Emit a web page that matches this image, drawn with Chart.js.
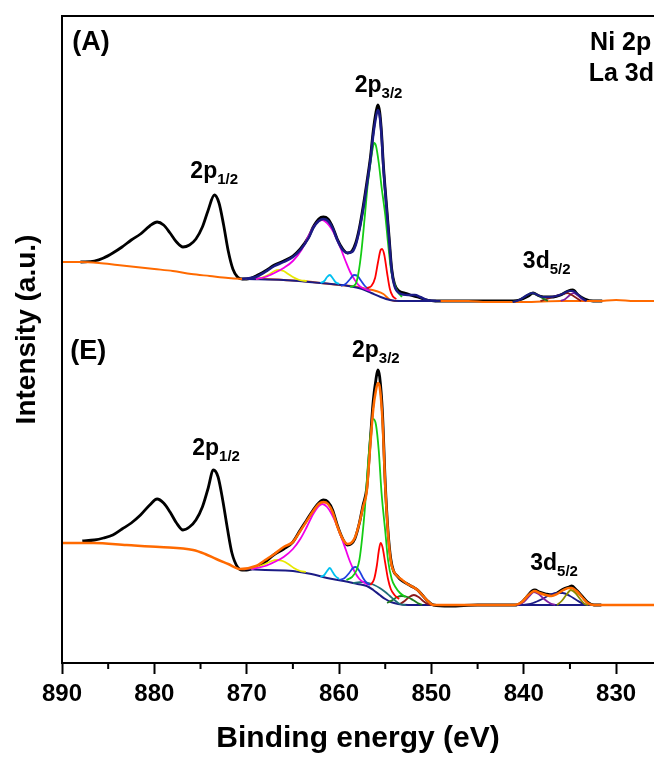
<!DOCTYPE html>
<html>
<head>
<meta charset="utf-8">
<script src="https://cdn.jsdelivr.net/npm/chart.js@4.4.1/dist/chart.umd.min.js"></script>
<style>
  html, body { margin: 0; padding: 0; background: #fff; overflow: hidden; }
</style>
</head>
<body>
<canvas id="myChart" width="654" height="757"></canvas>
<script>
// Energías de enlace (eV) e intensidad (u.a.): [eV, intensidad]

// ---- Muestra (A) ----
const aExp = [
  [888.0, 401], [886.5, 402], [885.5, 405], [884.5, 410], [883.5, 416], [882.5, 423], [881.5, 429],
  [880.5, 437], [879.7, 441], [879.0, 438], [878.3, 430], [877.6, 421], [876.9, 416], [876.2, 418],
  [875.5, 424], [874.8, 436], [874.2, 452], [873.5, 468], [873.0, 460], [872.5, 438], [872.0, 412],
  [871.5, 394], [871.0, 386], [870.5, 384], [870.0, 384], [869.0, 387], [868.0, 392], [867.0, 398],
  [866.0, 402], [865.0, 407], [864.2, 414], [863.3, 426], [862.8, 436], [862.2, 444], [861.7, 446],
  [861.2, 444], [860.7, 436], [860.2, 424], [859.6, 414], [859.1, 410], [858.6, 412], [858.2, 420],
  [857.8, 435], [857.4, 456], [857.0, 480], [856.6, 506], [856.3, 532], [856.0, 551], [855.8, 558],
  [855.6, 551], [855.4, 530], [855.2, 498], [854.9, 462], [854.6, 428], [854.3, 394], [854.0, 379],
  [853.5, 372], [852.9, 370], [852.3, 368], [851.5, 366], [850.5, 363], [849.5, 362], [845.0, 362],
  [842.0, 362], [840.5, 363], [839.5, 367], [839.0, 370], [838.3, 367], [837.5, 366], [836.8, 366],
  [836.0, 368], [835.2, 372], [834.7, 373], [834.1, 368], [833.4, 364], [832.5, 362], [831.5, 362],
];
const aFondo = [
  [890, 401], [888, 401], [886, 400], [884, 398], [882, 396], [880, 394], [878, 392], [876, 389],
  [874, 387], [872, 385], [870, 384], [868, 384], [866, 383], [864, 382], [862, 380], [860, 378],
  [858, 376], [857, 374], [856, 372], [855.2, 369], [854.6, 364], [854, 362], [850, 362], [846, 362],
  [844, 361], [840, 361], [836, 362], [832, 362], [830, 363], [828, 362], [825.9, 362],
];
const aFondoAzul = [
  [870, 384], [866, 383], [862, 380], [859, 377], [857.5, 374], [856.5, 370], [855.5, 366],
  [854.5, 363], [853.5, 362], [849, 362],
];
const aAjuste = [
  [870.5, 384], [869, 386], [868, 391], [867, 397], [866, 401], [865, 406], [864.2, 413], [863.3, 425],
  [862.8, 435], [862.2, 442], [861.7, 444], [861.2, 442], [860.7, 435], [860.2, 423], [859.6, 413],
  [859.1, 410], [858.6, 411], [858.2, 418], [857.8, 433], [857.4, 453], [857.0, 477], [856.6, 503],
  [856.3, 528], [856.0, 546], [855.8, 553], [855.6, 547], [855.4, 527], [855.2, 495], [854.9, 459],
  [854.6, 425], [854.3, 392], [854.0, 377], [853.5, 370], [852.5, 368], [851.8, 368], [851.2, 366],
  [850.5, 363], [849.5, 362],
];
const aAmarillo = [[869, 384], [868.2, 386], [867.5, 389], [867, 392], [866.5, 393], [866, 392], [865.5, 389], [865, 386], [864.3, 383], [863.5, 382]];
const aMagenta = [
  [869, 384], [868, 386], [867, 390], [866, 395], [865, 402], [864, 414], [863.3, 427], [862.7, 437],
  [862.2, 442], [861.8, 443], [861.3, 440], [860.8, 434], [860.3, 425], [859.8, 414], [859.3, 402],
  [858.8, 391], [858.3, 383], [857.8, 377], [857.2, 374], [856.6, 372],
];
const aCian = [[862, 380], [861.6, 382], [861.3, 386], [861.0, 388], [860.7, 385], [860.4, 381], [860, 379]];
const aAzul = [[859.8, 377], [859.3, 379], [858.8, 384], [858.4, 388], [858.0, 387], [857.6, 382], [857.2, 377], [856.8, 374]];
const aVerde = [
  [858.8, 376], [858.2, 379], [857.9, 390], [857.6, 410], [857.2, 448], [856.9, 478], [856.6, 500],
  [856.35, 515], [856.2, 520], [856.0, 517], [855.7, 500], [855.4, 476], [855.0, 448], [854.7, 420],
  [854.4, 395], [854.1, 382], [853.7, 372], [853.2, 366],
];
const aRojo = [[857.0, 375], [856.5, 377], [856.1, 385], [855.8, 400], [855.5, 413], [855.35, 414], [855.1, 408], [854.8, 390], [854.5, 374], [854.2, 367], [853.8, 364]];
const aLaVerde = [[841.2, 361], [840.5, 363], [839.8, 367], [839.1, 370], [838.5, 368], [838.0, 365], [837.4, 362]];
const aLaGranate = [[838.2, 362], [837.5, 364], [836.6, 367], [835.8, 369], [835.3, 370], [834.8, 368], [834.3, 365], [833.8, 362]];
const aLaMorado = [[836.0, 362], [835.5, 364], [835.0, 368], [834.6, 370], [834.2, 368], [833.7, 364], [833.3, 362]];
const aLaAjuste = [
  [841.2, 361], [840.5, 363], [839.8, 367], [839.1, 370], [838.5, 368], [837.9, 366], [837.2, 366],
  [836.5, 367], [835.8, 369], [835.1, 372], [834.7, 372], [834.2, 369], [833.7, 365], [833.2, 362],
];

// ---- Muestra (E) ----
const eExp = [
  [887.8, 122], [886.5, 123], [885.5, 125], [884.5, 128], [883.5, 134], [882.5, 140], [881.5, 148],
  [880.5, 158], [879.7, 164], [879.0, 160], [878.3, 151], [877.6, 140], [876.9, 133], [876.2, 136],
  [875.5, 143], [874.8, 156], [874.2, 174], [873.6, 193], [873.1, 186], [872.6, 163], [872.1, 135],
  [871.6, 110], [871.0, 96], [870.5, 93], [870.0, 93], [869.0, 96], [868.0, 101], [867.1, 108],
  [866.0, 114], [865.0, 121], [864.2, 133], [863.5, 143], [862.8, 153], [862.2, 160], [861.7, 163],
  [861.2, 161], [860.7, 153], [860.2, 138], [859.6, 124], [859.1, 118], [858.7, 119], [858.3, 124],
  [857.8, 140], [857.4, 158], [857.0, 175], [856.6, 225], [856.3, 262], [856.0, 284], [855.8, 293],
  [855.6, 286], [855.3, 250], [855.0, 180], [854.7, 132], [854.4, 104], [854.1, 92], [853.7, 87],
  [853.3, 83], [852.6, 79], [852.0, 76], [851.5, 73], [851.0, 68], [850.4, 62], [849.8, 58], [848, 57],
  [845, 58], [842, 58], [840.8, 58], [840.2, 61], [839.6, 67], [839.1, 72], [838.8, 73], [838.3, 71],
  [837.6, 69], [837.0, 68], [836.4, 70], [835.7, 74], [835.1, 76], [834.8, 77], [834.3, 73],
  [833.7, 67], [833.1, 61], [832.4, 58], [831.6, 58],
];
const eAjuste = [
  [890, 120], [886.6, 120], [883, 118], [879.4, 116], [875.8, 113], [874.5, 109], [873.3, 104],
  [872, 99], [870.7, 94], [869, 97], [868, 103], [867, 109], [866, 116], [865, 121], [864.2, 132],
  [863.5, 142], [862.8, 152], [862.2, 159], [861.7, 161], [861.2, 159], [860.7, 151], [860.2, 137],
  [859.6, 124], [859.1, 119], [858.7, 120], [858.3, 125], [857.8, 140], [857.4, 156], [857.0, 172],
  [856.6, 220], [856.3, 254], [856.0, 273], [855.8, 280], [855.6, 276], [855.3, 243], [855.0, 177],
  [854.7, 130], [854.4, 102], [854.1, 92], [853.7, 87], [853.3, 84], [852.6, 79], [852.0, 76],
  [851.5, 73], [851.0, 68], [850.4, 62], [849.8, 58], [846, 58], [843, 58], [841, 58], [840.2, 61],
  [839.6, 67], [839.1, 71], [838.8, 72], [838.3, 70], [837.6, 68], [837.0, 67], [836.4, 69],
  [835.7, 73], [835.1, 75], [834.8, 75], [834.3, 72], [833.7, 66], [833.1, 60], [832.4, 58], [830, 58],
  [828, 58], [825.9, 58],
];
const eFondoAzul = [
  [870.7, 94], [868, 93], [865, 92], [863, 89], [861.3, 85], [859.5, 82], [858, 79], [857, 77],
  [856.3, 73], [855.6, 68], [855.0, 64], [854.4, 61], [853.6, 59], [852.5, 58], [849.8, 58],
];
const eAmarillo = [[869.5, 94], [868.8, 96], [868.0, 99], [867.3, 102], [866.7, 103], [866.1, 102], [865.5, 99], [864.9, 95], [864.2, 92], [863.6, 91]];
const eMagenta = [
  [869.5, 94], [868, 97], [867, 101], [866, 106], [865, 114], [864.2, 124], [863.5, 136], [862.8, 149],
  [862.2, 157], [861.8, 159], [861.3, 156], [860.8, 149], [860.3, 139], [859.8, 127], [859.3, 114],
  [858.8, 101], [858.3, 91], [857.8, 84], [857.2, 80], [856.8, 78],
];
const eCian = [[862, 86], [861.6, 88], [861.3, 92], [861.0, 95], [860.7, 91], [860.4, 87], [860, 84]];
const eAzul = [[859.9, 83], [859.4, 85], [858.9, 90], [858.5, 95], [858.2, 96], [857.8, 92], [857.4, 85], [857.0, 80], [856.6, 78]];
const eVerde = [
  [859.2, 83], [858.6, 86], [858.1, 93], [857.8, 103], [857.5, 125], [857.2, 155], [856.9, 195],
  [856.6, 228], [856.3, 244], [856.0, 238], [855.7, 212], [855.4, 170], [855.0, 132], [854.7, 103],
  [854.3, 84], [853.9, 76], [853.4, 70], [852.8, 66],
];
const eRojo = [[856.6, 78], [856.2, 84], [855.9, 98], [855.7, 112], [855.5, 120], [855.3, 116], [855.0, 100], [854.7, 84], [854.4, 74], [854.0, 68], [853.5, 64]];
const eTurquesa = [[858.5, 80], [857.5, 81], [856.8, 80], [856.2, 78], [855.6, 75], [855.0, 71], [854.5, 67], [854.0, 63], [853.4, 59], [852.8, 58]];
const eVerdeOsc = [[854.8, 60], [854.2, 63], [853.7, 66], [853.2, 67], [852.6, 66], [852.0, 63], [851.5, 60], [851.0, 58]];
const eGranate = [[853.4, 59], [852.9, 62], [852.4, 66], [851.9, 68], [851.4, 66], [850.9, 62], [850.4, 59], [850.0, 58]];
const eLaMorado = [[840.7, 58], [840.0, 61], [839.4, 67], [838.9, 71], [838.4, 69], [837.8, 64], [837.2, 60], [836.6, 58]];
const eLaOliva = [[836.4, 58], [835.9, 62], [835.4, 68], [834.9, 73], [834.4, 70], [833.9, 64], [833.4, 59], [833.0, 58]];
const eLaAzul = [[840, 58], [839, 60], [838, 64], [837.2, 68], [836.5, 70], [835.8, 70], [835.0, 67], [834.3, 63], [833.5, 59], [832.8, 58]];
const eLaBase = [[840.8, 58], [832.3, 58]];

// ticks del eje x
const ticksMayores = [890, 880, 870, 860, 850, 840, 830];
const ticksMenores = [885, 875, 865, 855, 845, 835];

const fuente = "'Liberation Sans', Arial, sans-serif";

const linea = (datos, color, ancho, orden) => ({
  data: datos.map(([x, y]) => ({ x, y })),
  borderColor: color,
  borderWidth: ancho,
  pointRadius: 0,
  fill: false,
  cubicInterpolationMode: "monotone",
  order: orden,
});

const datasets = [
  // (A)
  linea(aAjuste, "#1b1b85", 2.5, 0),
  linea(aLaAjuste, "#1b1b85", 2, 0),
  linea(aRojo, "#ff0000", 1.8, 1),
  linea(aVerde, "#14cc14", 1.8, 1),
  linea(aAzul, "#2040e0", 1.8, 1),
  linea(aCian, "#00c0f0", 1.8, 1),
  linea(aMagenta, "#f000e8", 1.8, 1),
  linea(aAmarillo, "#e8e800", 1.8, 1),
  linea(aLaVerde, "#1e7a1e", 1.8, 1),
  linea(aLaGranate, "#8b1a1a", 1.8, 1),
  linea(aLaMorado, "#8020a0", 1.8, 1),
  linea(aFondoAzul, "#1b1b85", 2, 1),
  linea(aFondo, "#ff6a00", 2, 2),
  linea(aExp, "#000000", 2.8, 3),
  // (E)
  linea(eAjuste, "#ff6a00", 2.5, 0),
  linea(eRojo, "#ff0000", 1.8, 1),
  linea(eVerde, "#14cc14", 1.8, 1),
  linea(eAzul, "#2040e0", 1.8, 1),
  linea(eCian, "#00c0f0", 1.8, 1),
  linea(eMagenta, "#f000e8", 1.8, 1),
  linea(eAmarillo, "#e8e800", 1.8, 1),
  linea(eTurquesa, "#1f6f78", 1.8, 1),
  linea(eVerdeOsc, "#1e7a1e", 1.8, 1),
  linea(eGranate, "#8b1a1a", 1.8, 1),
  linea(eLaMorado, "#8020a0", 1.8, 1),
  linea(eLaOliva, "#8b8b00", 1.8, 1),
  linea(eLaAzul, "#1b1b85", 1.8, 1),
  linea(eLaBase, "#1b1b85", 1.8, 1),
  linea(eFondoAzul, "#1b1b85", 2, 1),
  linea(eExp, "#000000", 2.8, 3),
];

// textos: [texto, subíndice, eV, intensidad, alineación, tamaño]
const rotulos = [
  ["(A)", "", 888.9, 613, "left", 27],
  ["Ni 2p", "", 826.2, 613, "right", 25],
  ["La 3d", "", 825.9, 582, "right", 25],
  ["2p", "1/2", 876.1, 485, "left", 23],
  ["2p", "3/2", 858.3, 571, "left", 23],
  ["3d", "5/2", 840.1, 395, "left", 23],
  ["(E)", "", 889.1, 304, "left", 27],
  ["2p", "1/2", 875.9, 208, "left", 23],
  ["2p", "3/2", 858.6, 306, "left", 23],
  ["3d", "5/2", 839.3, 93, "left", 23],
];

const extras = {
  id: "extras",
  afterDraw(chart) {
    const { ctx, chartArea: a, scales: { x, y } } = chart;
    ctx.save();
    ctx.strokeStyle = "#000";
    ctx.lineWidth = 2;
    ctx.beginPath();
    ctx.moveTo(a.left, a.bottom);
    ctx.lineTo(a.left, a.top);
    ctx.lineTo(a.right + 2, a.top);
    ticksMenores.forEach((v) => {
      const px = x.getPixelForValue(v);
      ctx.moveTo(px, a.bottom);
      ctx.lineTo(px, a.bottom + 6);
    });
    ctx.stroke();

    ctx.fillStyle = "#000";
    ctx.textBaseline = "alphabetic";
    rotulos.forEach(([t, sub, ev, val, al, tam]) => {
      const px = x.getPixelForValue(ev);
      const py = y.getPixelForValue(val);
      ctx.font = `bold ${tam}px ${fuente}`;
      ctx.textAlign = al;
      ctx.fillText(t, px, py);
      if (sub) {
        const w = ctx.measureText(t).width;
        ctx.font = `bold 15px ${fuente}`;
        ctx.textAlign = "left";
        ctx.fillText(sub, px + w, py + 6);
      }
    });

    ctx.translate(27, (a.top + a.bottom) / 2 - 10);
    ctx.rotate(-Math.PI / 2);
    ctx.font = `bold 28px ${fuente}`;
    ctx.textAlign = "center";
    ctx.textBaseline = "middle";
    ctx.fillText("Intensity (a.u.)", 0, 0);
    ctx.restore();
  },
};

new Chart(document.getElementById("myChart"), {
  type: "line",
  data: { datasets },
  options: {
    responsive: false,
    animation: false,
    devicePixelRatio: 1,
    layout: { padding: { left: 62, top: 16, right: 0, bottom: 0 } },
    plugins: { legend: { display: false }, tooltip: { enabled: false } },
    scales: {
      x: {
        type: "linear",
        reverse: true,
        min: 825.9,
        max: 890,
        afterFit: (s) => { s.height = 94; },
        afterBuildTicks: (s) => { s.ticks = ticksMayores.map((v) => ({ value: v })); },
        ticks: {
          color: "#000",
          padding: 6,
          maxRotation: 0,
          autoSkip: false,
          font: { family: fuente, size: 24, weight: "bold" },
        },
        grid: {
          display: true,
          drawOnChartArea: false,
          drawTicks: true,
          tickLength: 11,
          tickWidth: 2,
          tickColor: "#000",
        },
        border: { display: true, color: "#000", width: 2 },
        title: {
          display: true,
          text: "Binding energy (eV)",
          color: "#000",
          font: { family: fuente, size: 30, weight: "bold" },
          padding: { top: 0, bottom: 0 },
        },
      },
      y: { display: false, min: 0, max: 647 },
    },
  },
  plugins: [extras],
});
</script>
</body>
</html>
